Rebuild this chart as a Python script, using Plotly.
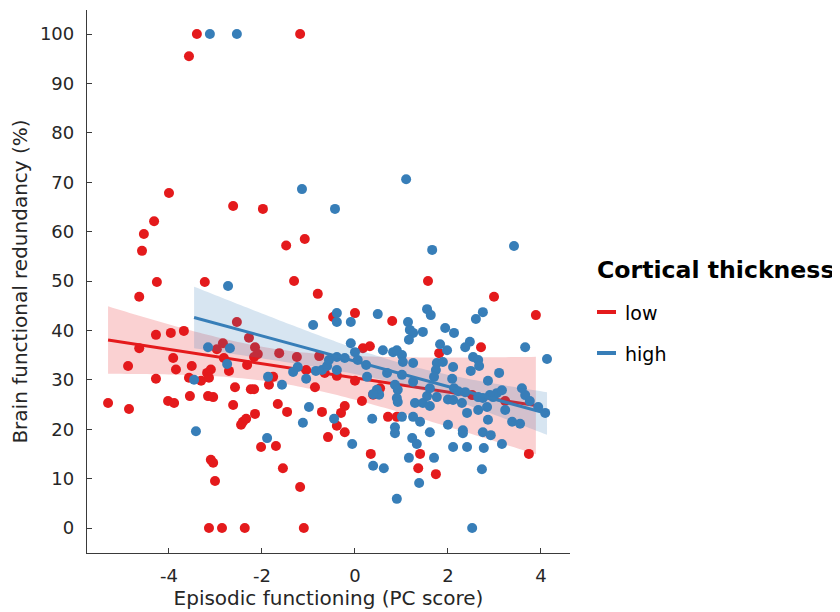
import numpy as np
import plotly.graph_objects as go

# ---- data ----
low_x = [-3.40, -3.57, -1.18, -4.00, -4.32, -4.54, -4.58, -4.64, -4.26, -2.62,
         -1.98, -1.48, -1.08, -0.80, -3.23, -1.31, 1.57, -4.28, -3.96, -3.68,
         -4.64, -4.88, -3.91, -3.85, -3.51, -4.28, -3.57, -3.31, -3.18, -3.10,
         -3.14, -2.97, -5.31, -4.86, -4.02, -3.89, -3.55, -3.16, -3.05, -3.10,
         -3.05, -3.01, -2.54, -2.28, -2.84, -2.15, -2.09, -2.17, -1.63, -1.25,
         -0.77, -2.82, -2.71, -2.32, -1.76, -1.85, -1.05, -0.86, -2.58, -2.24,
         -2.17, -2.62, -2.15, -1.66, -1.46, -0.71, -0.58, -2.45, -2.41, -2.34,
         -2.02, -1.70, -1.55, -1.18, -3.14, -2.86, -2.37, -1.10, -0.65, -0.47,
         -0.39, 0.00, 0.80, 0.17, 0.32, 1.81, -0.39, 0.00, 0.39, 0.54,
         0.15, -0.30, -0.22, -0.22, 0.71, 0.90, 0.34, 1.40, 1.36, 1.74,
         2.99, 3.89, 2.71, 2.52, 3.23, 3.74]
low_y = [100.0, 95.5, 100.0, 67.8, 62.1, 59.5, 56.1, 46.8, 49.8, 65.2,
         64.6, 57.2, 58.5, 47.4, 49.8, 50.0, 50.0, 39.1, 39.5, 39.9,
         36.4, 32.8, 34.4, 32.1, 32.8, 30.2, 30.4, 29.8, 31.4, 32.1,
         30.4, 36.2, 25.3, 24.1, 25.7, 25.3, 26.7, 26.7, 26.5, 13.8,
         13.2, 9.5, 41.7, 38.5, 37.4, 36.6, 35.2, 34.6, 35.4, 34.6,
         34.8, 34.4, 31.8, 33.0, 30.6, 29.0, 32.0, 28.5, 28.5, 28.1,
         28.1, 24.9, 23.1, 25.1, 23.5, 23.5, 18.4, 20.9, 21.5, 22.1,
         16.4, 16.6, 12.1, 8.3, 0.0, 0.0, 0.0, 0.0, 31.4, 42.7,
         20.7, 43.5, 41.9, 36.4, 36.8, 35.4, 30.8, 29.8, 27.0, 28.3,
         25.7, 23.3, 24.7, 19.4, 22.5, 22.5, 15.0, 15.0, 12.1, 10.9,
         46.8, 43.1, 36.6, 26.9, 25.7, 15.0]

high_x = [-3.12, -2.54, -1.14, -0.43, 1.10, 1.66, 3.42, -2.73, -3.16, -3.46,
          -3.42, -0.90, -2.69, -2.75, -1.87, -1.57, -1.23, -1.33, -1.05, -0.99,
          -1.12, -1.89, -0.84, -0.71, -0.60, -0.56, -0.39, -0.39, -0.39, -0.45,
          -0.09, 0.49, 1.14, 1.55, 1.63, 1.18, 1.25, 1.46, 1.16, 1.94,
          2.13, -0.09, 0.00, 0.60, 0.82, 0.90, 1.01, 1.03, 1.25, 1.83,
          1.98, 1.76, 1.89, 2.11, 1.74, 1.70, -0.22, 0.06, 0.24, -0.39,
          0.26, 0.69, 1.01, 1.25, 0.86, 0.92, 0.47, 0.52, 0.39, 0.90,
          0.92, 1.29, 1.46, 1.61, 1.55, 1.76, 1.61, 2.00, 2.13, 2.22,
          0.37, 1.01, 1.25, 1.40, 0.86, 0.86, 1.61, 2.00, 1.23, 1.33,
          2.11, -0.06, 1.16, 1.70, 2.75, 2.60, 2.47, 2.37, 3.66, 4.13,
          2.54, 2.65, 2.67, 2.49, 3.10, 2.09, 2.86, 2.37, 3.05, 3.16,
          2.97, 2.90, 3.59, 3.66, 3.76, 2.65, 2.75, 2.11, 2.30, 2.84,
          2.65, 2.41, 3.94, 4.09, 3.23, 2.86, 3.38, 3.55, 2.32, 2.32,
          2.75, 2.92, 3.16, 2.41, 2.77, 0.39, 0.62, 1.38, 0.90, 2.73,
          2.52]
high_y = [100.0, 100.0, 68.6, 64.6, 70.6, 56.3, 57.1, 49.0, 36.6, 30.0,
          19.6, 41.1, 36.4, 33.2, 30.6, 29.0, 32.6, 31.6, 30.2, 24.5,
          21.3, 18.2, 31.8, 32.0, 32.8, 34.0, 34.6, 43.5, 41.7, 22.1,
          41.7, 43.3, 41.7, 44.3, 43.1, 40.1, 39.5, 39.7, 38.1, 40.5,
          39.5, 37.4, 35.6, 36.0, 35.6, 36.0, 35.0, 33.6, 33.4, 37.2,
          36.0, 33.4, 33.6, 32.6, 32.0, 30.6, 34.4, 34.0, 33.0, 32.0,
          30.6, 31.4, 31.0, 29.6, 29.0, 28.0, 28.0, 27.0, 27.1, 26.3,
          25.5, 25.3, 25.3, 24.7, 26.7, 26.5, 28.3, 26.0, 28.3, 27.7,
          22.1, 22.5, 22.5, 21.5, 20.4, 19.2, 19.4, 20.9, 18.2, 17.0,
          16.4, 17.0, 14.2, 14.2, 43.7, 42.3, 37.7, 36.6, 36.6, 34.2,
          34.6, 34.0, 32.8, 31.8, 31.4, 30.2, 29.8, 27.5, 27.3, 27.9,
          26.5, 26.9, 28.3, 26.9, 25.7, 26.5, 26.3, 25.9, 25.3, 24.5,
          23.9, 23.3, 24.5, 23.3, 23.9, 21.9, 21.5, 21.1, 19.8, 19.2,
          19.4, 18.8, 17.0, 16.4, 16.2, 12.6, 12.1, 9.1, 5.9, 11.9,
          0.0]

group_names = ["low", "high"]
group_colors = ["#e41a1c", "#377eb8"]
band_colors = ["rgba(228,26,28,0.2)", "rgba(55,126,184,0.2)"]

x_ticks = [-4, -2, 0, 2, 4]
y_ticks = [0, 10, 20, 30, 40, 50, 60, 70, 80, 90, 100]

x_title = "Episodic functioning (PC score)"
y_title = "Brain functional redundancy (%)"
legend_title = "Cortical thickness"


def fit_with_ci(x, y, n_grid=100):
    x = np.asarray(x, float)
    y = np.asarray(y, float)
    n = len(x)
    b, a = np.polyfit(x, y, 1)
    resid = y - (a + b * x)
    s = np.sqrt(np.sum(resid ** 2) / (n - 2))
    xm = x.mean()
    sxx = np.sum((x - xm) ** 2)
    grid = np.linspace(x.min(), x.max(), n_grid)
    yhat = a + b * grid
    se = s * np.sqrt(1.0 / n + (grid - xm) ** 2 / sxx)
    t = 1.97
    return grid, yhat, yhat - t * se, yhat + t * se


fig = go.Figure()
groups = [(low_x, low_y), (high_x, high_y)]
for (gx, gy), name, col, bcol in zip(groups, group_names, group_colors, band_colors):
    fig.add_trace(go.Scatter(x=gx, y=gy, mode="markers", name=name,
                             marker=dict(color=col, size=10, line=dict(width=0)),
                             showlegend=False, hoverinfo="x+y"))
    grid, yhat, lo, hi = fit_with_ci(gx, gy)
    fig.add_trace(go.Scatter(x=np.concatenate([grid, grid[::-1]]),
                             y=np.concatenate([hi, lo[::-1]]),
                             fill="toself", fillcolor=bcol, mode="none",
                             line=dict(width=0), showlegend=False, hoverinfo="skip"))
    fig.add_trace(go.Scatter(x=grid, y=yhat, mode="lines", name=name,
                             line=dict(color=col, width=3), showlegend=False,
                             hoverinfo="skip"))

# The page body has an 8 px margin, so the figure is 8 px smaller than the window
OFF = 8
W, H = 840 - OFF, 612 - OFF
# plot area in page pixels (reference), converted to figure pixels
L, R, T, B = 87 - OFF, 570 - OFF, 10 - OFF, 553 - OFF


def px_x(p):
    return (p - OFF - L) / (R - L)


def px_y(p):
    return (B - (p - OFF)) / (B - T)


axis_col = "#3a3a3a"
text_col = "#262626"
font_family = "DejaVu Sans"

fig.update_layout(
    width=W, height=H,
    margin=dict(l=L, r=W - R, t=T, b=H - B, pad=0),
    plot_bgcolor="white", paper_bgcolor="white",
    font=dict(family=font_family, color=text_col),
    showlegend=False,
    xaxis=dict(range=[-5.763, 4.624], tickvals=x_ticks,
               ticktext=[str(v) for v in x_ticks],
               showgrid=False, zeroline=False, showline=True,
               linecolor=axis_col, linewidth=1.25,
               ticks="inside", ticklen=5, tickwidth=1.25, tickcolor=axis_col,
               tickfont=dict(size=18, color=text_col), ticklabelstandoff=6,
               title=dict(text=x_title, font=dict(size=20, color=text_col), standoff=4)),
    yaxis=dict(range=[-5.06, 104.86], tickvals=y_ticks,
               ticktext=[str(v) for v in y_ticks],
               showgrid=False, zeroline=False, showline=True,
               linecolor=axis_col, linewidth=1.25,
               ticks="inside", ticklen=5, tickwidth=1.25, tickcolor=axis_col,
               tickfont=dict(size=18, color=text_col), ticklabelstandoff=8,
               title=dict(text=y_title, font=dict(size=20, color=text_col), standoff=10)),
)

# legend drawn as annotations + short coloured bars
fig.add_annotation(xref="paper", yref="paper", x=px_x(595), y=px_y(270),
                   xanchor="left", yanchor="middle", showarrow=False,
                   text="<b>%s</b>" % legend_title,
                   font=dict(size=23.6, color="black", family=font_family))
legend_rows = [312, 353]
for name, col, row in zip(group_names, group_colors, legend_rows):
    fig.add_shape(type="line", xref="paper", yref="paper",
                  x0=px_x(597), x1=px_x(616), y0=px_y(row), y1=px_y(row),
                  line=dict(color=col, width=4))
    fig.add_annotation(xref="paper", yref="paper", x=px_x(623), y=px_y(row + 1),
                       xanchor="left", yanchor="middle", showarrow=False,
                       text=name, font=dict(size=19, color="black", family=font_family))

fig.write_html("out.html")
